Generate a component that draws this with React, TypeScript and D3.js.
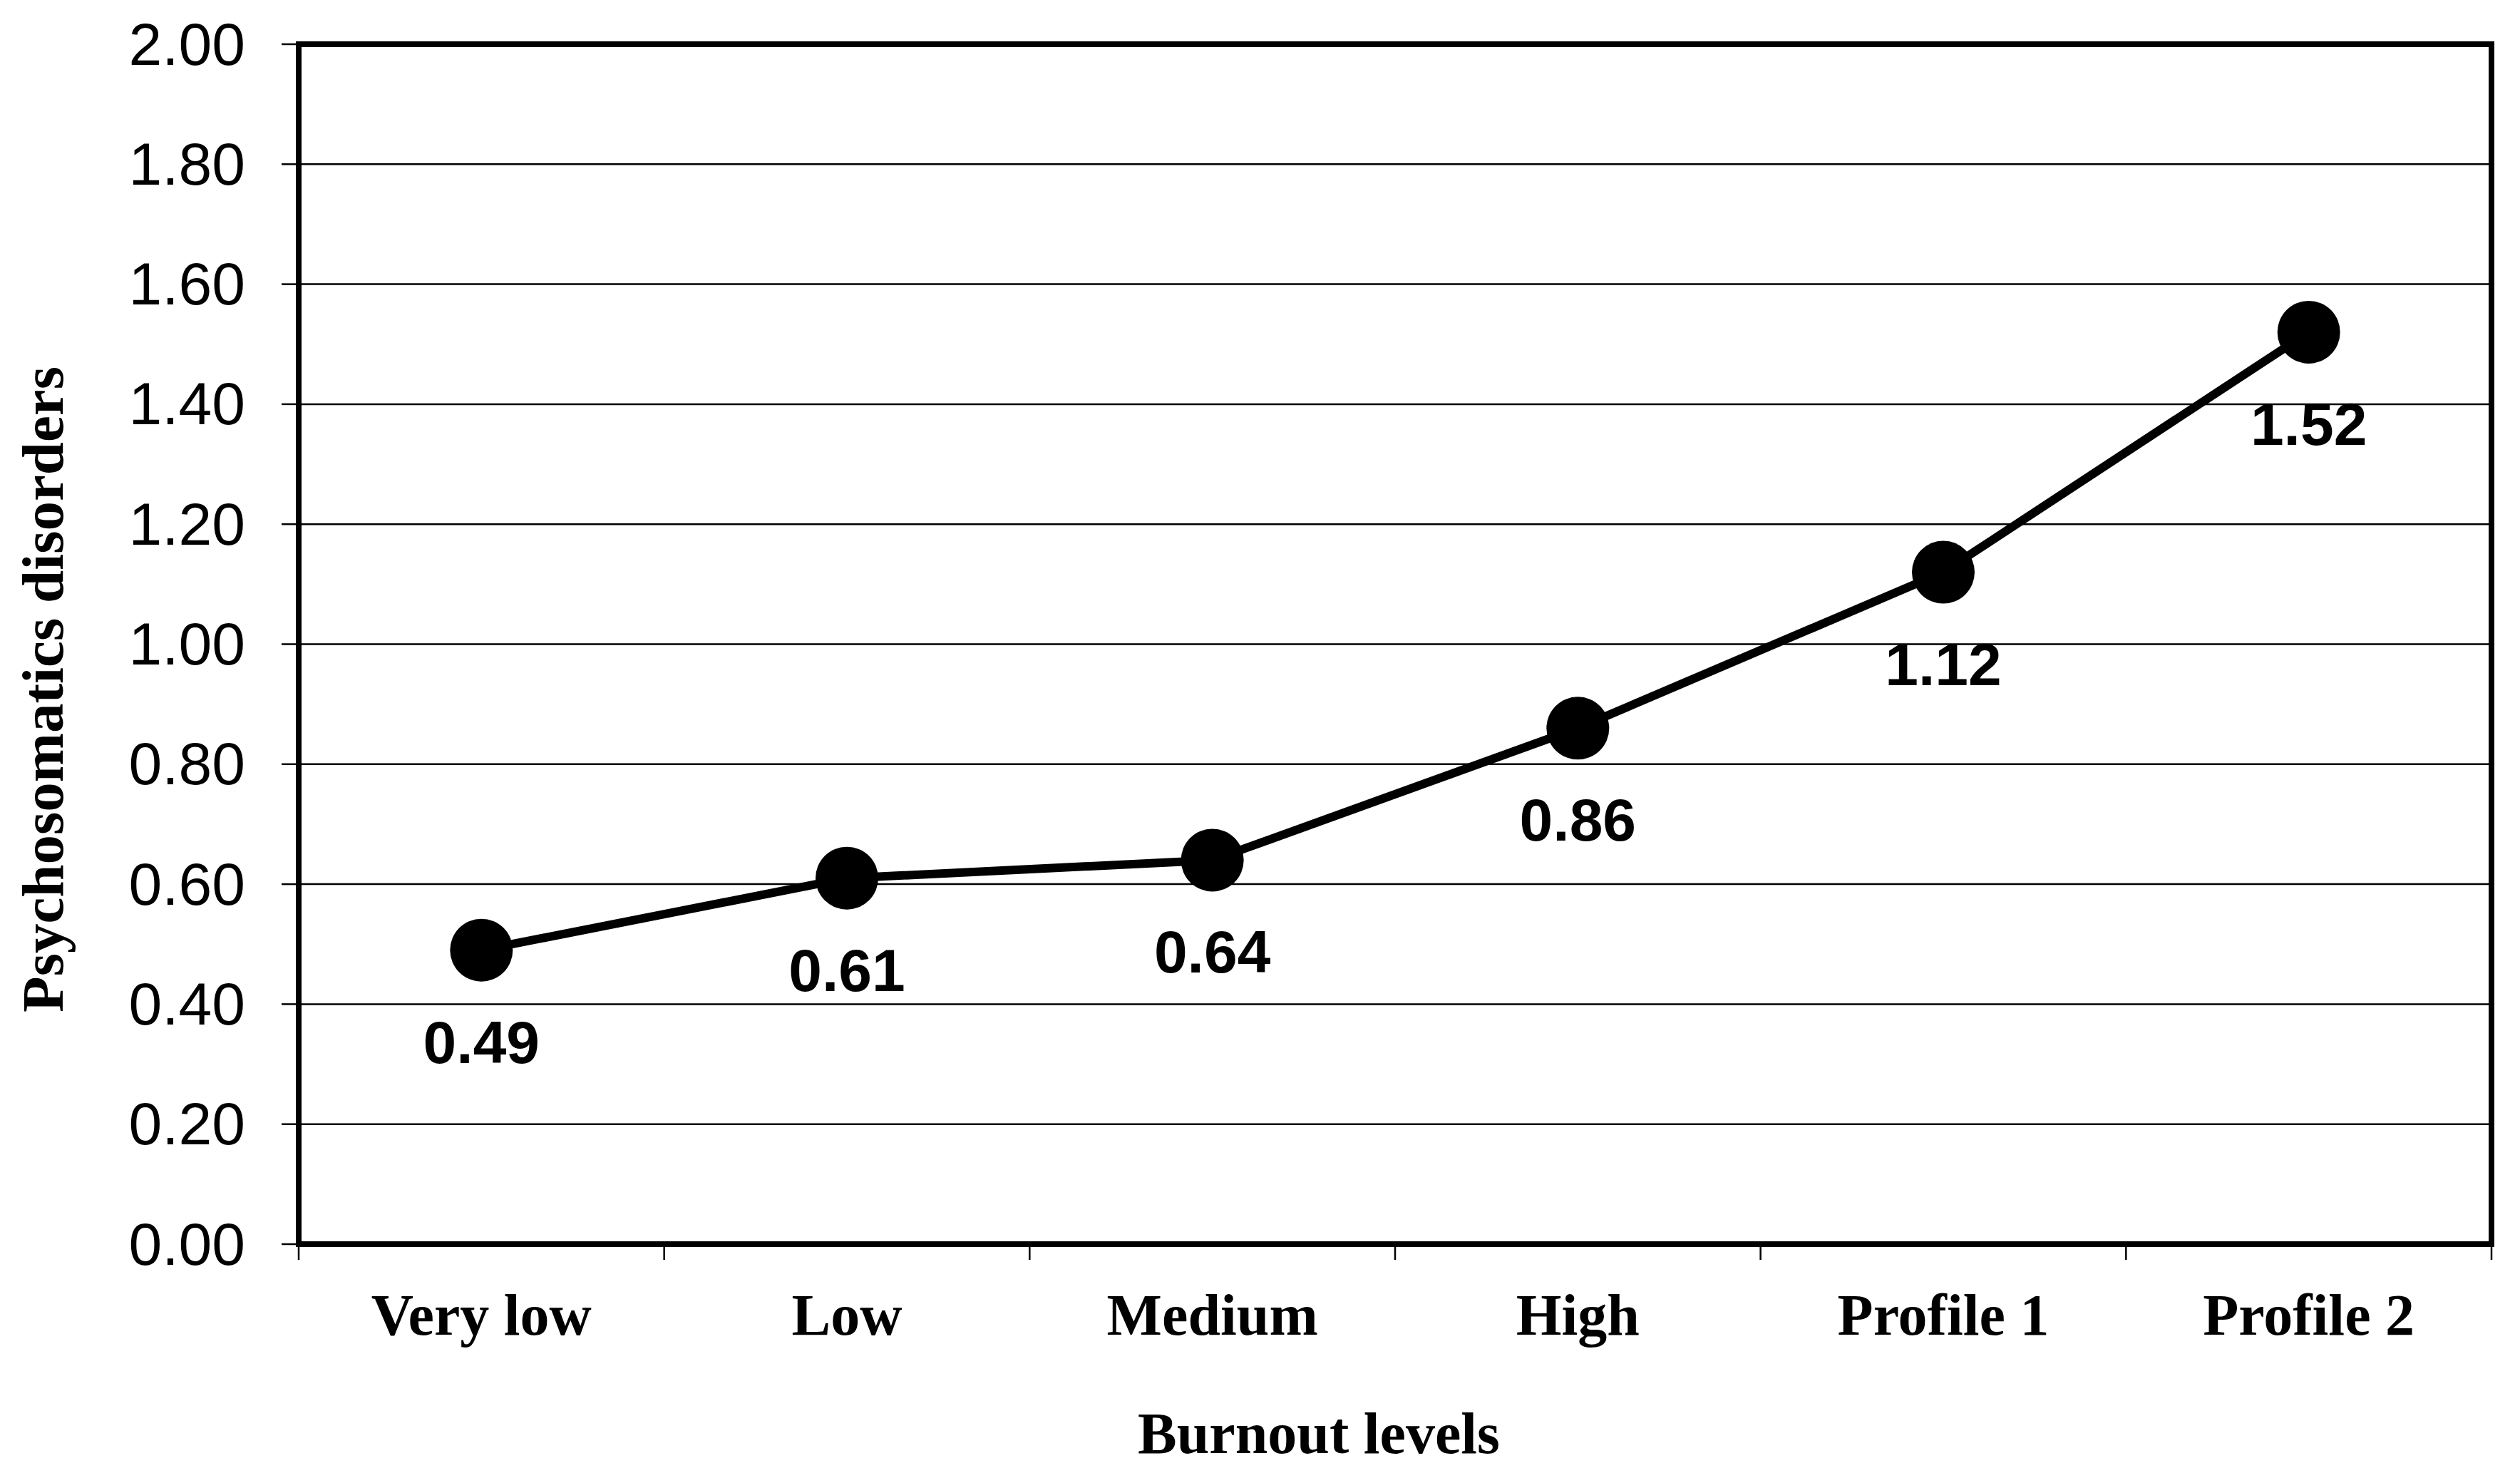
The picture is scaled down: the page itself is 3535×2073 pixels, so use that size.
import React from 'react';
import * as d3 from 'd3';

const categories = ['Very low', 'Low', 'Medium', 'High', 'Profile 1', 'Profile 2'];
const values = [0.49, 0.61, 0.64, 0.86, 1.12, 1.52];
const yTicks = [0, 0.2, 0.4, 0.6, 0.8, 1.0, 1.2, 1.4, 1.6, 1.8, 2.0];

const W = 3535;
const H = 2073;
const SANS = '"Liberation Sans", Arial, sans-serif';
const SERIF = '"Liberation Serif", "Times New Roman", serif';

const App: React.FC = () => {
  const left = 419;
  const right = 3495;
  const top = 62;
  const bottom = 1745;

  const x = d3.scaleBand<string>().domain(categories).range([left, right]).padding(0);
  const y = d3.scaleLinear().domain([0, 2]).range([bottom, top]);
  const cx = (c: string) => (x(c) || 0) + x.bandwidth() / 2;

  const line = d3
    .line<number>()
    .x((_, i) => cx(categories[i]))
    .y((d) => y(d));

  const xBounds = d3.range(categories.length + 1).map((i) => left + i * x.bandwidth());

  return (
    <svg
      width={W}
      height={H}
      viewBox={`0 0 ${W} ${H}`}
      style={{ position: 'absolute', left: 0, top: 0, background: '#fff' }}
    >
      <rect x={0} y={0} width={W} height={H} fill="#fff" />

      {/* gridlines */}
      {yTicks.slice(1, -1).map((t) => (
        <line key={`g${t}`} x1={left} x2={right} y1={y(t)} y2={y(t)} stroke="#000" strokeWidth={2.5} />
      ))}

      {/* y ticks and labels */}
      {yTicks.map((t) => (
        <g key={`y${t}`}>
          <line x1={left - 24} x2={left} y1={y(t)} y2={y(t)} stroke="#000" strokeWidth={2.5} />
          <text
            x={344}
            y={y(t)}
            dy="0.34em"
            textAnchor="end"
            fontFamily={SANS}
            fontSize={84}
            fill="#000"
          >
            {t.toFixed(2)}
          </text>
        </g>
      ))}

      {/* x ticks */}
      {xBounds.map((b, i) => (
        <line key={`xt${i}`} x1={b} x2={b} y1={bottom} y2={bottom + 22} stroke="#000" strokeWidth={2.5} />
      ))}

      {/* plot frame */}
      <rect
        x={left}
        y={top}
        width={right - left}
        height={bottom - top}
        fill="none"
        stroke="#000"
        strokeWidth={8}
      />

      {/* category labels */}
      {categories.map((c) => (
        <text
          key={c}
          x={cx(c)}
          y={1872}
          textAnchor="middle"
          fontFamily={SERIF}
          fontWeight="bold"
          fontSize={82}
          fill="#000"
        >
          {c}
        </text>
      ))}

      {/* series */}
      <path d={line(values) || ''} fill="none" stroke="#000" strokeWidth={12} strokeLinejoin="round" />
      {values.map((v, i) => (
        <circle key={`p${i}`} cx={cx(categories[i])} cy={y(v)} r={44} fill="#000" />
      ))}
      {values.map((v, i) => (
        <text
          key={`l${i}`}
          x={cx(categories[i])}
          y={y(v) + 158}
          textAnchor="middle"
          fontFamily={SANS}
          fontWeight="bold"
          fontSize={84}
          fill="#000"
        >
          {v.toFixed(2)}
        </text>
      ))}

      {/* axis titles */}
      <text
        x={1850}
        y={2038}
        textAnchor="middle"
        fontFamily={SERIF}
        fontWeight="bold"
        fontSize={82}
        fill="#000"
      >
        Burnout levels
      </text>
      <text
        transform="translate(88,967) rotate(-90)"
        textAnchor="middle"
        fontFamily={SERIF}
        fontWeight="bold"
        fontSize={83}
        fill="#000"
      >
        Psychosomatics disorders
      </text>
    </svg>
  );
};

export default App;
